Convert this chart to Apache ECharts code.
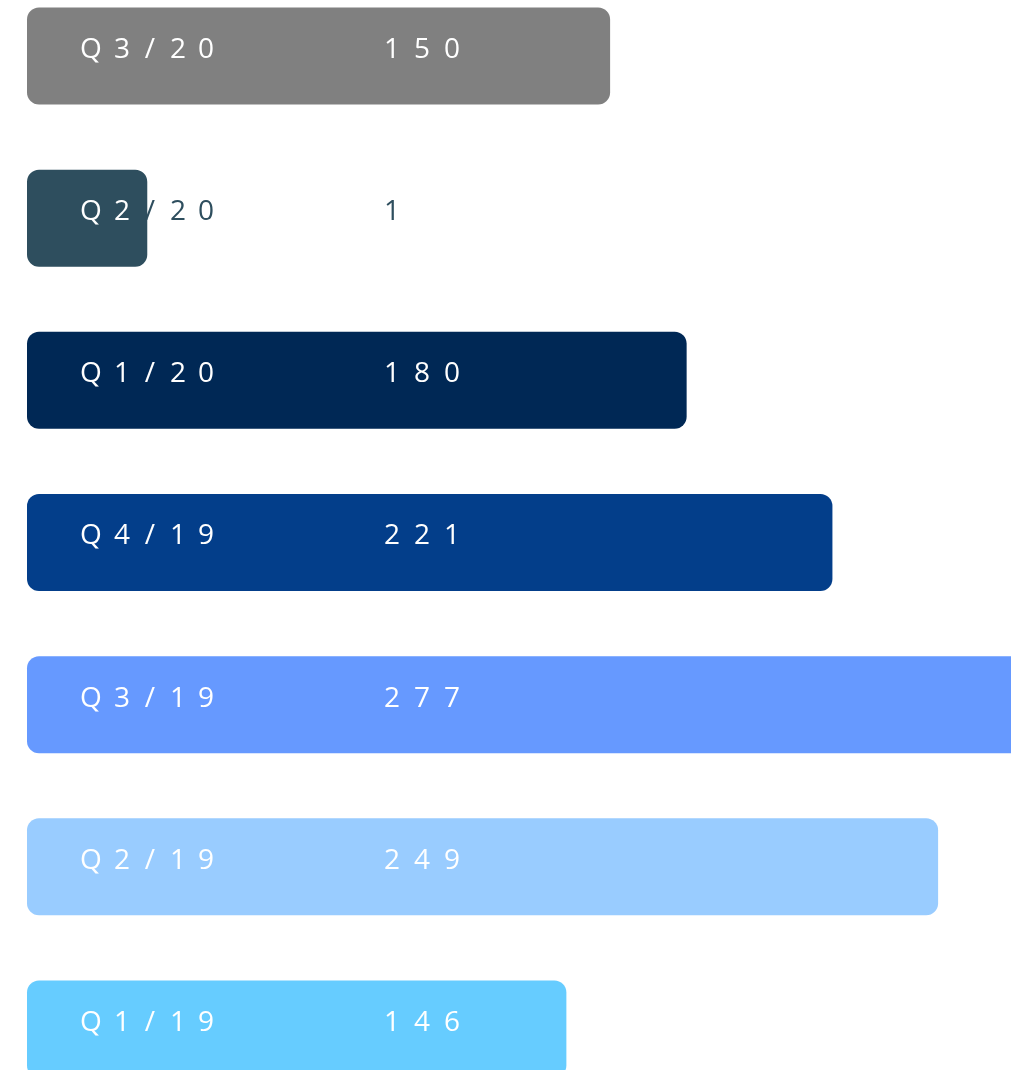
<!DOCTYPE html>
<html>
<head>
<meta charset="utf-8">
<script src="https://cdn.jsdelivr.net/npm/echarts@6/dist/echarts.min.js"></script>
<style>
html,body{margin:0;padding:0;background:#fff;}
#chart{width:1011px;height:1070px;}
</style>
</head>
<body>
<div id="chart"></div>
<script>
const categories = ['Q3/20', 'Q2/20', 'Q1/20', 'Q4/19', 'Q3/19', 'Q2/19', 'Q1/19'];
const values = [150, 1, 180, 221, 277, 249, 146];
// bar lengths as drawn in the picture (same units as values)
const barLengths = [160, 33, 181, 221, 277, 250, 148];
const barColors = ['#808080', '#2E4E5E', '#002855', '#033E8A', '#6699FF', '#99CCFF', '#66CCFF'];

const X_MAX = 270;
const GRID_LEFT = 27, GRID_W = 1011 - 27;
const FONT = 'Open Sans';
const FS = 28;

function spaced(text, idx, startOffset, isValue) {
  const barPx = barLengths[idx] / X_MAX * GRID_W;
  let x = startOffset;
  return text.split('').map(ch => {
    const w = isValue ? 30 : (ch === 'Q' ? 34 : 28);
    const inside = (x + w / 2) < barPx;
    const key = (isValue ? 'v' : (ch === 'Q' ? 'q' : 'c')) + (inside ? 'W' : 'D');
    x += w;
    return '{' + key + '|' + ch + '}';
  }).join('');
}

function tok(color, width) {
  return { color: color, fontSize: FS, fontFamily: FONT, width: width, align: 'center' };
}
const WHITE = '#ffffff', DARK = '#2E4E5E';
const richStyles = {
  qW: tok(WHITE, 34), qD: tok(DARK, 34),
  cW: tok(WHITE, 28), cD: tok(DARK, 28),
  vW: tok(WHITE, 30), vD: tok(DARK, 30)
};

const chart = echarts.init(document.getElementById('chart'), null, { renderer: 'canvas' });
chart.setOption({
  animation: false,
  backgroundColor: '#ffffff',
  grid: { left: GRID_LEFT, right: 0, top: 56, height: 973, containLabel: false },
  xAxis: { type: 'value', min: 0, max: X_MAX, show: false },
  yAxis: { type: 'category', data: categories, inverse: true, boundaryGap: false, show: false },
  series: [
    {
      type: 'bar',
      clip: false,
      barWidth: 97,
      barGap: '-100%',
      data: barLengths.map((v, i) => ({ value: v, itemStyle: { color: barColors[i], borderRadius: 12 } })),
      label: {
        show: true,
        position: [47, '50%'],
        align: 'left',
        verticalAlign: 'middle',
        offset: [0, -6],
        formatter: p => spaced(categories[p.dataIndex], p.dataIndex, 47, false),
        rich: richStyles
      }
    },
    {
      type: 'bar',
      clip: false,
      barWidth: 97,
      barGap: '-100%',
      silent: true,
      itemStyle: { color: 'rgba(0,0,0,0)' },
      data: barLengths,
      label: {
        show: true,
        position: [350, '50%'],
        align: 'left',
        verticalAlign: 'middle',
        offset: [0, -6],
        formatter: p => spaced(String(values[p.dataIndex]), p.dataIndex, 350, true),
        rich: richStyles
      }
    }
  ]
});
</script>
</body>
</html>
